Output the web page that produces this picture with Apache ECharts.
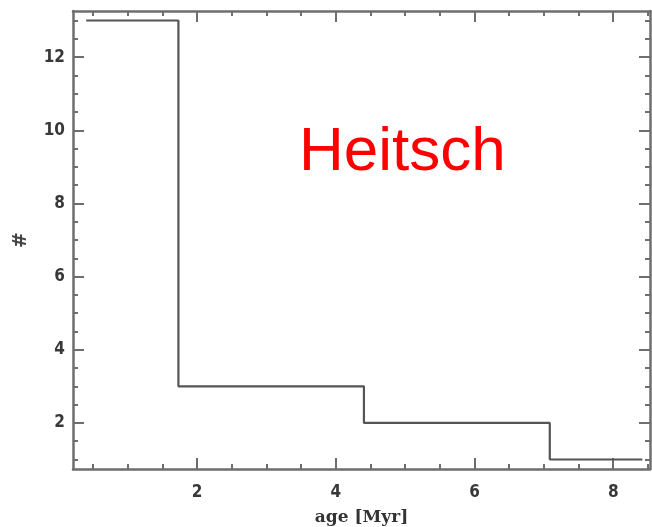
<!DOCTYPE html>
<html>
<head>
<meta charset="utf-8">
<script src="https://cdn.jsdelivr.net/npm/echarts@6/dist/echarts.min.js"></script>
<style>
  html, body { margin: 0; padding: 0; background: #fff; }
  #chart { width: 652px; height: 527px; }
</style>
</head>
<body>
<div id="chart"></div>
<script>
// Histogram of cluster ages: bin centres (Myr) and counts per bin
const binCentres = [0.40, 3.06, 5.75, 8.42];
const counts = [13, 3, 2, 1];

// Axis ranges and tick positions
const xRange = [0.21, 8.53];
const yRange = [0.74, 13.26];
const xMajorTicks = [2, 4, 6, 8];
const xMinorTicks = [0.5, 1, 1.5, 2.5, 3, 3.5, 4.5, 5, 5.5, 6.5, 7, 7.5, 8.5];
const yMajorTicks = [2, 4, 6, 8, 10, 12];
const yMinorTicks = [1, 1.5, 2.5, 3, 3.5, 4.5, 5, 5.5, 6.5, 7, 7.5, 8.5, 9, 9.5, 10.5, 11, 11.5, 12.5, 13];

const frameColor = '#6e6e6e';
const labelFont = { color: '#383838', fontFamily: 'DejaVu Sans Condensed', fontWeight: 'bold', fontSize: 17 };

function makeAxis(range, position, ticks, len, opts) {
  return Object.assign({
    type: 'value',
    position: position,
    min: range[0],
    max: range[1],
    axisLine: { show: false, onZero: false },
    axisTick: { show: true, inside: true, length: len, customValues: ticks,
                lineStyle: { color: frameColor, width: 2 } },
    axisLabel: { show: false },
    splitLine: { show: false }
  }, opts || {});
}

const frameLine = { show: true, onZero: false, lineStyle: { color: frameColor, width: 2.5 } };

const option = {
  backgroundColor: '#fff',
  animation: false,
  grid: { left: 73, right: 2, top: 11, bottom: 58, containLabel: false, outerBoundsMode: 'none' },
  xAxis: [
    makeAxis(xRange, 'bottom', xMajorTicks, 11, {
      axisLine: frameLine,
      axisLabel: Object.assign({ show: true, customValues: xMajorTicks, margin: 15 }, labelFont),
      name: 'age [Myr]',
      nameLocation: 'middle',
      nameGap: 40,
      nameTextStyle: { color: '#333', fontFamily: 'DejaVu Serif', fontWeight: 'bold', fontSize: 17 }
    }),
    makeAxis(xRange, 'bottom', xMinorTicks, 5),
    makeAxis(xRange, 'top', xMajorTicks, 11, { axisLine: frameLine }),
    makeAxis(xRange, 'top', xMinorTicks, 5)
  ],
  yAxis: [
    makeAxis(yRange, 'left', yMajorTicks, 11, {
      axisLine: frameLine,
      axisLabel: Object.assign({ show: true, customValues: yMajorTicks, margin: 8 }, labelFont),
      name: '#',
      nameLocation: 'middle',
      nameGap: 42,
      nameRotate: 90,
      nameTextStyle: { color: '#444', fontFamily: 'DejaVu Sans', fontWeight: 'bold', fontSize: 19 }
    }),
    makeAxis(yRange, 'left', yMinorTicks, 5),
    makeAxis(yRange, 'right', yMajorTicks, 11, { axisLine: frameLine }),
    makeAxis(yRange, 'right', yMinorTicks, 5)
  ],
  series: [{
    type: 'line',
    xAxisIndex: 0,
    yAxisIndex: 0,
    step: 'middle',
    showSymbol: false,
    data: binCentres.map((x, i) => [x, counts[i]]),
    lineStyle: { color: '#555', width: 2.2 }
  }],
  graphic: [{
    type: 'text',
    left: 299,
    top: 122,
    style: {
      text: 'Heitsch',
      fill: '#ff0000',
      font: '62px "Liberation Sans", Arial, sans-serif'
    }
  }]
};

const chart = echarts.init(document.getElementById('chart'), null, { renderer: 'canvas' });
chart.setOption(option);
</script>
</body>
</html>
